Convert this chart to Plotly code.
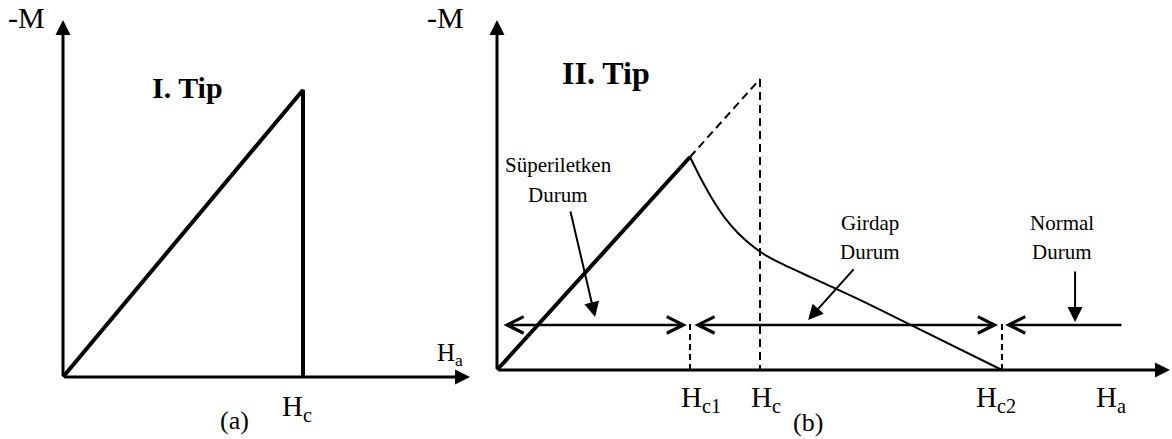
import plotly.graph_objects as go

# Schematic magnetisation curves, field in units of Hc, -M in units of -M(Hc)

# Type I superconductor: linear rise up to Hc, then sudden drop
type1_H = [0.0, 1.0, 1.0]
type1_M = [0.0, 1.0, 0.0]

# Type II superconductor
Hc1, Hc, Hc2 = 0.734, 1.0, 1.92
meissner_H = [0.0, Hc1]
meissner_M = [0.0, 0.732]
extension_H = [Hc1, Hc]          # dashed continuation of the Meissner line
extension_M = [0.732, 1.0]
vortex_H = [0.734, 0.772, 0.821, 0.867, 0.916, 0.962, 1.008, 1.076, 1.190, 1.380, 1.544, 1.920]
vortex_M = [0.732, 0.663, 0.584, 0.522, 0.471, 0.433, 0.402, 0.368, 0.320, 0.241, 0.168, 0.000]

# Region bands (double-headed arrows) and their labels
band_M = 0.155
band_start = [0.019, 0.745, 1.932]
band_end = [0.722, 1.905, 2.380]
region_labels = [("Süperiletken", "Durum"), ("Girdap", "Durum"), ("Normal", "Durum")]
label_pos_H = [0.232, 1.418, 2.148]
label_pos_M = [(0.704, 0.601), (0.505, 0.405), (0.505, 0.405)]
pointer_tail = [(0.278, 0.550), (1.361, 0.351), (2.198, 0.344)]
pointer_tip = [(0.373, 0.182), (1.183, 0.172), (2.198, 0.165)]

# ---- layout geometry ----
W, HT = 1172, 439
FONT = "Liberation Serif"


def x_range(origin_px, scale):
    return [-origin_px / scale, (W - origin_px) / scale]


def y_range(origin_px, scale):
    return [-(HT - origin_px) / scale, origin_px / scale]


fig = go.Figure()

# Panel (a)
fig.add_trace(go.Scatter(x=type1_H, y=type1_M, mode="lines",
                         line=dict(color="black", width=4),
                         xaxis="x", yaxis="y", hoverinfo="skip"))

# Panel (b)
fig.add_trace(go.Scatter(x=meissner_H, y=meissner_M, mode="lines",
                         line=dict(color="black", width=4),
                         xaxis="x2", yaxis="y2", hoverinfo="skip"))
fig.add_trace(go.Scatter(x=extension_H, y=extension_M, mode="lines",
                         line=dict(color="black", width=2, dash="8px,5px"),
                         xaxis="x2", yaxis="y2", hoverinfo="skip"))
fig.add_trace(go.Scatter(x=[Hc, Hc], y=[extension_M[-1], 0], mode="lines",
                         line=dict(color="black", width=2, dash="8px,5px"),
                         xaxis="x2", yaxis="y2", hoverinfo="skip"))
for h in (Hc1, Hc2):
    fig.add_trace(go.Scatter(x=[h, h], y=[0, band_M + 0.01], mode="lines",
                             line=dict(color="black", width=2, dash="6px,4px"),
                             xaxis="x2", yaxis="y2", hoverinfo="skip"))
fig.add_trace(go.Scatter(x=vortex_H, y=vortex_M, mode="lines",
                         line=dict(color="black", width=2, shape="spline", smoothing=0.5),
                         xaxis="x2", yaxis="y2", hoverinfo="skip"))

ann = []


def arrow(xa, ya, x0, y0, x1, y1, width, head=2, size=1.0, both=False):
    d = dict(xref=xa, yref=ya, axref=xa, ayref=ya, x=x1, y=y1, ax=x0, ay=y0,
             text="", showarrow=True, arrowhead=head, arrowsize=size,
             arrowwidth=width, arrowcolor="black", standoff=0, startstandoff=0)
    if both:
        d.update(arrowside="end+start", startarrowhead=head, startarrowsize=size)
    ann.append(d)


def label(xa, ya, x, y, text, size, bold=False, xanchor="center", yanchor="middle", xshift=0):
    ann.append(dict(xref=xa, yref=ya, x=x, y=y, text=f"<b>{text}</b>" if bold else text,
                    showarrow=False, xanchor=xanchor, yanchor=yanchor, xshift=xshift,
                    font=dict(family=FONT, size=size, color="black")))


# Axes with arrowheads
arrow("x", "y", 0, 0, 0, 1.244, 3)
arrow("x", "y", 0, 0, 1.696, 0, 3)
arrow("x2", "y2", 0, 0, 0, 1.203, 3)
arrow("x2", "y2", 0, 0, 2.559, 0, 3)

# Region bands
arrow("x2", "y2", band_start[0], band_M, band_end[0], band_M, 2.5, head=5, size=1.3, both=True)
arrow("x2", "y2", band_start[1], band_M, band_end[1], band_M, 2.5, head=5, size=1.3, both=True)
arrow("x2", "y2", band_end[2], band_M, band_start[2], band_M, 2.5, head=5, size=1.3)

# Pointers from labels
for (tx, ty), (px, py) in zip(pointer_tail, pointer_tip):
    arrow("x2", "y2", tx, ty, px, py, 2, head=2, size=1.5)

for (l1, l2), hx, (m1, m2) in zip(region_labels, label_pos_H, label_pos_M):
    label("x2", "y2", hx, m1, l1, 21)
    label("x2", "y2", hx, m2, l2, 21)

# Panel (a) texts
label("x", "y", -0.154, 1.254, "-M", 30)
label("x", "y", 0.52, 1.007, "I. Tip", 30, bold=True)
label("x", "y", 1.55, 0.077, "H<sub>a</sub>", 25, xanchor="left")
label("x", "y", 1.0, -0.108, "H<sub>c</sub>", 29, xanchor="left", xshift=-23)
label("x", "y", 0.7125, -0.15, "(a)", 26)

# Panel (b) texts
label("x2", "y2", -0.194, 1.213, "-M", 30)
label("x2", "y2", 0.414, 1.021, "II. Tip", 32, bold=True)
label("x2", "y2", Hc1, -0.10, "H<sub>c1</sub>", 29, xanchor="left", xshift=-11)
label("x2", "y2", Hc, -0.10, "H<sub>c</sub>", 29, xanchor="left", xshift=-11)
label("x2", "y2", Hc2, -0.10, "H<sub>c2</sub>", 29, xanchor="left", xshift=-28)
label("x2", "y2", 2.27, -0.10, "H<sub>a</sub>", 29, xanchor="left")
label("x2", "y2", 1.183, -0.179, "(b)", 26)

hidden = dict(visible=False, domain=[0, 1], fixedrange=True)
fig.update_layout(
    width=W, height=HT,
    margin=dict(l=0, r=0, t=0, b=0),
    paper_bgcolor="white", plot_bgcolor="white",
    showlegend=False,
    xaxis=dict(range=x_range(63, 240), **hidden),
    yaxis=dict(range=y_range(377, 287), **hidden),
    xaxis2=dict(range=x_range(497, 263), overlaying="x", **hidden),
    yaxis2=dict(range=y_range(370, 291), overlaying="y", **hidden),
    annotations=ann,
)

fig.write_html("out.html")
